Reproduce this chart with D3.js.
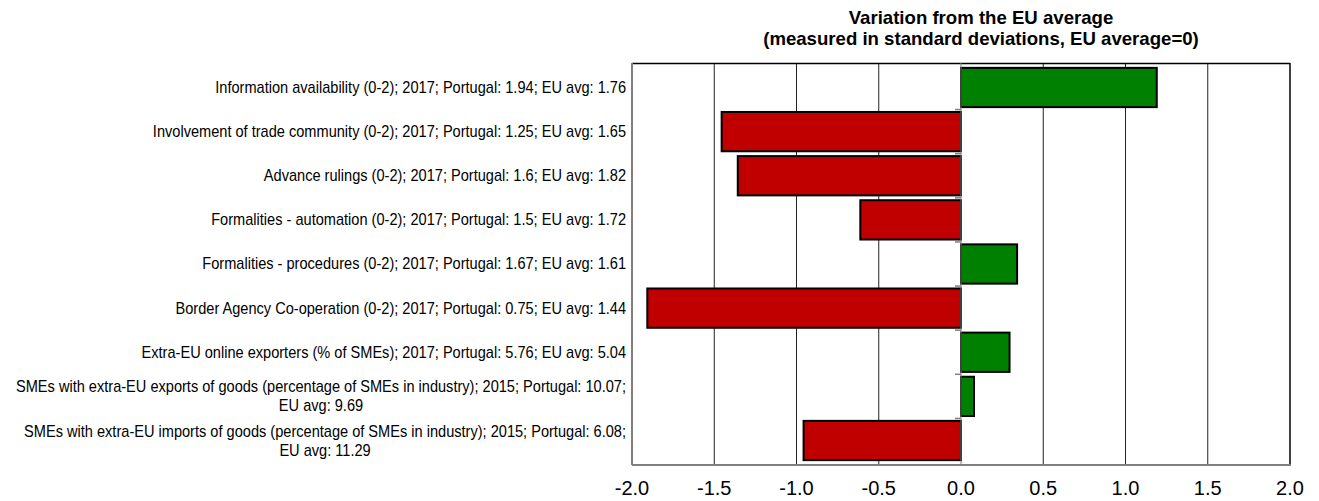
<!DOCTYPE html>
<html>
<head>
<meta charset="utf-8">
<script src="https://cdn.jsdelivr.net/npm/d3@7/dist/d3.min.js"></script>
<style>
  html, body { margin: 0; padding: 0; background: #fff; }
  svg { display: block; }
</style>
</head>
<body>
<div id="chart"></div>
<script>
// indicator labels (one entry per line of the wrapped label)
const labels = [
  ["Information availability (0-2); 2017; Portugal: 1.94; EU avg: 1.76"],
  ["Involvement of trade community (0-2); 2017; Portugal: 1.25; EU avg: 1.65"],
  ["Advance rulings (0-2); 2017; Portugal: 1.6; EU avg: 1.82"],
  ["Formalities - automation (0-2); 2017; Portugal: 1.5; EU avg: 1.72"],
  ["Formalities - procedures (0-2); 2017; Portugal: 1.67; EU avg: 1.61"],
  ["Border Agency Co-operation (0-2); 2017; Portugal: 0.75; EU avg: 1.44"],
  ["Extra-EU online exporters (% of SMEs); 2017; Portugal: 5.76; EU avg: 5.04"],
  ["SMEs with extra-EU exports of goods (percentage of SMEs in industry); 2015; Portugal: 10.07;", "EU avg: 9.69"],
  ["SMEs with extra-EU imports of goods (percentage of SMEs in industry); 2015; Portugal: 6.08;", "EU avg: 11.29"],
];
// variation from EU average, in standard deviations
const deviations = [1.19, -1.455, -1.357, -0.612, 0.341, -1.907, 0.295, 0.079, -0.957];
const xTicks = [-2.0, -1.5, -1.0, -0.5, 0.0, 0.5, 1.0, 1.5, 2.0];
const titleLines = ["Variation from the EU average", "(measured in standard deviations, EU average=0)"];

const width = 1319, height = 501;
const margin = { top: 63, right: 29, bottom: 36, left: 632 };
const font = "'Liberation Sans', Arial, sans-serif";

const svg = d3.select("#chart").append("svg").attr("width", width).attr("height", height);

const x = d3.scaleLinear().domain([-2, 2]).range([margin.left, width - margin.right]);
const y = d3.scaleBand().domain(d3.range(labels.length)).range([margin.top, height - margin.bottom]).padding(0.11);

// grid
svg.append("g")
  .selectAll("line")
  .data(xTicks.filter((t) => t !== -2 && t !== 2 && t !== 0))
  .enter()
  .append("line")
  .attr("x1", (t) => x(t)).attr("x2", (t) => x(t))
  .attr("y1", margin.top).attr("y2", height - margin.bottom)
  .attr("stroke", "#222").attr("stroke-width", 1);

// frame: top/right dark, left/bottom grey
const x0 = margin.left, x1 = width - margin.right, y0 = margin.top, y1 = height - margin.bottom;
svg.append("line").attr("x1", x0).attr("x2", x1).attr("y1", y0 + 0.5).attr("y2", y0 + 0.5).attr("stroke", "#000").attr("stroke-width", 1.5);
svg.append("line").attr("x1", x1).attr("x2", x1).attr("y1", y0).attr("y2", y1).attr("stroke", "#000").attr("stroke-width", 1.5);

// bars
svg.append("g")
  .selectAll("rect")
  .data(deviations)
  .enter()
  .append("rect")
  .attr("x", (d) => x(Math.min(0, d)))
  .attr("y", (d, i) => y(i))
  .attr("width", (d) => Math.abs(x(d) - x(0)))
  .attr("height", y.bandwidth())
  .attr("fill", (d) => (d >= 0 ? "#008000" : "#c00000"))
  .attr("stroke", "#000")
  .attr("stroke-width", 2);

// zero axis with category boundary ticks
const gap = y.step() * y.paddingInner();
svg.append("line").attr("x1", x(0)).attr("x2", x(0)).attr("y1", y0).attr("y2", y1).attr("stroke", "#808080").attr("stroke-width", 1);
svg.append("g")
  .selectAll("line")
  .data(d3.range(1, labels.length))
  .enter()
  .append("line")
  .attr("x1", x(0) - 6).attr("x2", x(0))
  .attr("y1", (i) => y(i) - gap / 2).attr("y2", (i) => y(i) - gap / 2)
  .attr("stroke", "#808080").attr("stroke-width", 1.5);

svg.append("line").attr("x1", x0).attr("x2", x0).attr("y1", y0).attr("y2", y1).attr("stroke", "#808080").attr("stroke-width", 2);
svg.append("line").attr("x1", x0).attr("x2", x1 + 1).attr("y1", y1).attr("y2", y1).attr("stroke", "#808080").attr("stroke-width", 2);

// x axis labels (plain hyphen for negatives, like the source)
svg.append("g")
  .selectAll("text")
  .data(xTicks)
  .enter()
  .append("text")
  .attr("x", (t) => x(t))
  .attr("y", height - 6)
  .attr("text-anchor", "middle")
  .attr("font-family", font)
  .attr("font-size", 20)
  .attr("fill", "#000")
  .text((t) => t.toFixed(1));

// category labels: condensed, right-aligned block, wrapped lines centred in block
const labelRight = margin.left - 6;
const squeeze = 0.9;
const lineH = 19;
labels.forEach((lines, i) => {
  const cy = y(i) + y.bandwidth() / 2;
  const g = svg.append("g").attr("transform", `translate(${labelRight},0) scale(${squeeze},1)`);
  const texts = lines.map((line, k) =>
    g.append("text")
      .attr("y", cy + (k - (lines.length - 1) / 2) * lineH + 5.5)
      .attr("font-family", font)
      .attr("font-size", 16.2)
      .attr("fill", "#000")
      .text(line)
  );
  const blockW = d3.max(texts, (t) => t.node().getComputedTextLength());
  texts.forEach((t) => t.attr("x", -blockW / 2).attr("text-anchor", "middle"));
});

// title
svg.append("g")
  .selectAll("text")
  .data(titleLines)
  .enter()
  .append("text")
  .attr("x", 981)
  .attr("y", (d, i) => 24 + i * 21)
  .attr("text-anchor", "middle")
  .attr("font-family", font)
  .attr("font-weight", "bold")
  .attr("font-size", 18.6)
  .attr("fill", "#000")
  .text((d) => d);
</script>
</body>
</html>
